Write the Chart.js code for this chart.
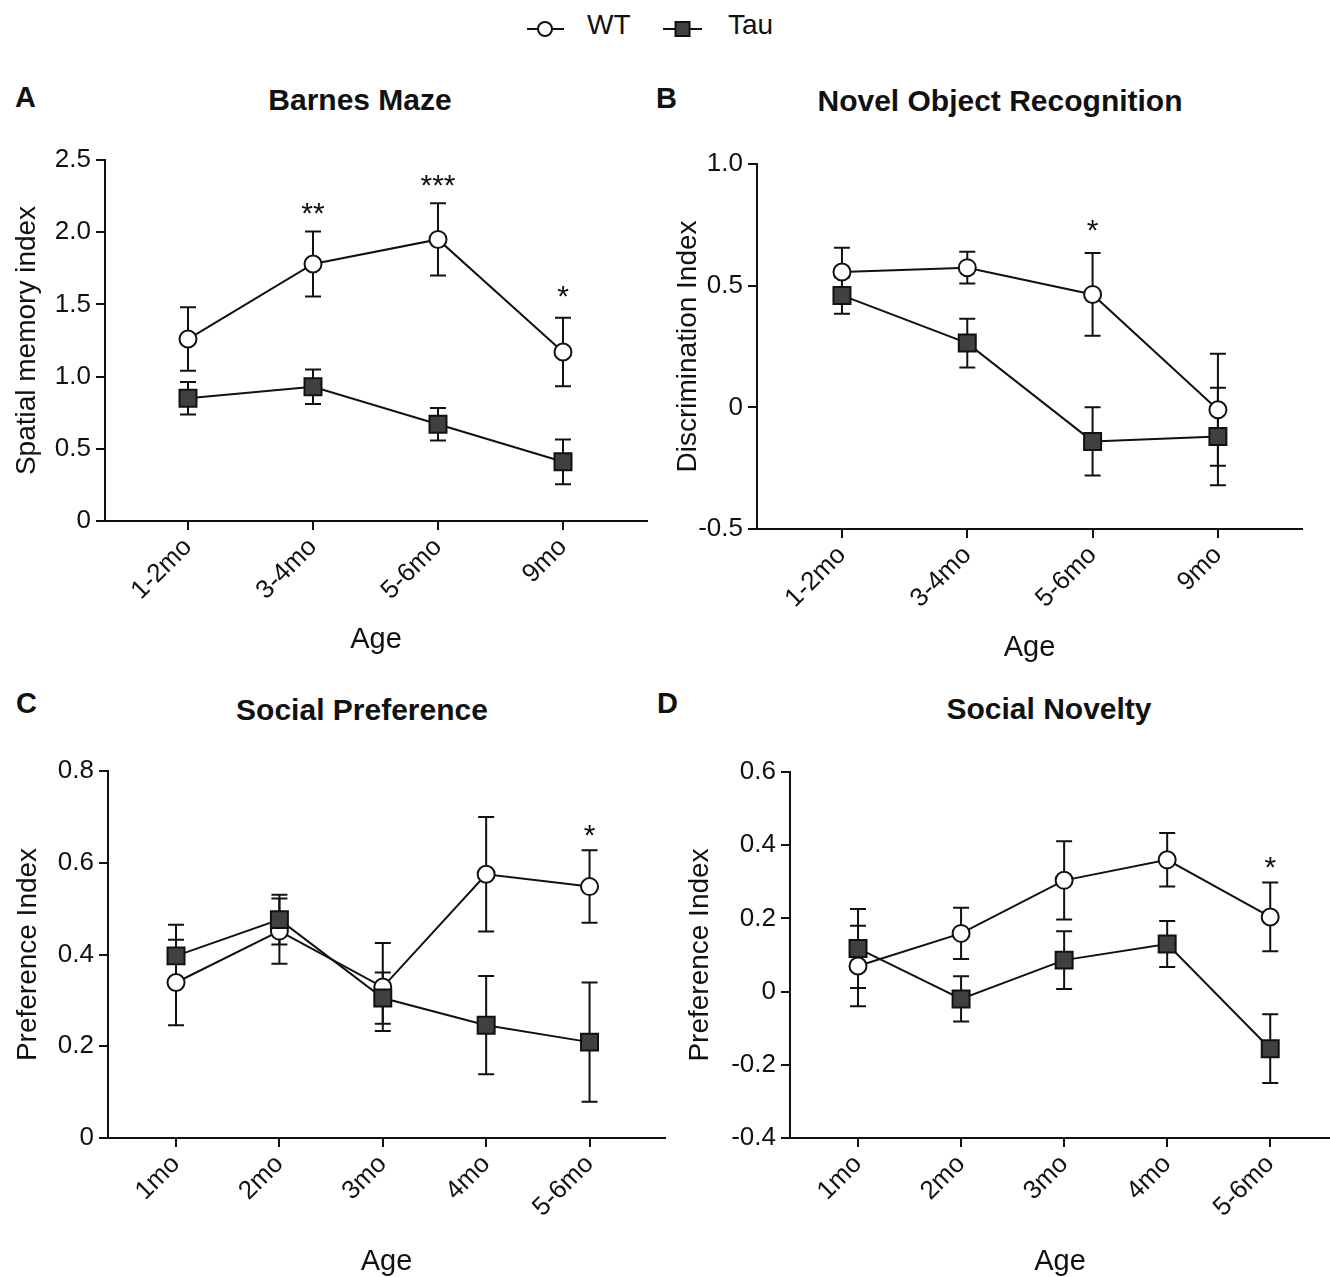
<!DOCTYPE html>
<html>
<head>
<meta charset="utf-8">
<script src="https://cdn.jsdelivr.net/npm/chart.js@4.4.1/dist/chart.umd.min.js"></script>
<style>
  body { margin: 0; background: #fff; font-family: "Liberation Sans", Arial, sans-serif; color: #111; }
  #fig { position: relative; width: 1330px; height: 1277px; overflow: hidden; }
  #fig canvas { position: absolute; }
  .txt { position: absolute; line-height: 1; white-space: nowrap; }
  .letter { font-weight: bold; font-size: 29px; }
  .title { font-weight: bold; font-size: 30px; transform: translateX(-50%); }
  .key { font-size: 28px; }
  #legendMarks { position: absolute; left: 0; top: 0; }
</style>
</head>
<body>
<div id="fig">
  <svg id="legendMarks" width="800" height="60">
    <line x1="527" y1="29" x2="564" y2="29" stroke="#111" stroke-width="2"/>
    <circle cx="545" cy="29" r="7" fill="#fff" stroke="#111" stroke-width="2"/>
    <line x1="663" y1="29" x2="702" y2="29" stroke="#111" stroke-width="2"/>
    <rect x="675.5" y="22" width="14" height="14" fill="#404040" stroke="#111" stroke-width="2"/>
  </svg>
  <div class="txt key" style="left:587px;top:11px">WT</div>
  <div class="txt key" style="left:728px;top:11px">Tau</div>

  <div class="txt letter" style="left:15px;top:83px">A</div>
  <div class="txt letter" style="left:656px;top:84px">B</div>
  <div class="txt letter" style="left:16px;top:689px">C</div>
  <div class="txt letter" style="left:657px;top:689px">D</div>

  <div class="txt title" style="left:360px;top:85px">Barnes Maze</div>
  <div class="txt title" style="left:1000px;top:86px">Novel Object Recognition</div>
  <div class="txt title" style="left:362px;top:695px">Social Preference</div>
  <div class="txt title" style="left:1049px;top:694px">Social Novelty</div>

  <canvas id="chartA" width="665" height="540" style="left:0;top:130px"></canvas>
  <canvas id="chartB" width="665" height="540" style="left:665px;top:130px"></canvas>
  <canvas id="chartC" width="680" height="550" style="left:0;top:730px"></canvas>
  <canvas id="chartD" width="680" height="550" style="left:665px;top:730px"></canvas>
</div>

<script>
// age groups
var agesAB = ['1-2mo', '3-4mo', '5-6mo', '9mo'];
var agesCD = ['1mo', '2mo', '3mo', '4mo', '5-6mo'];

// A - Barnes maze, spatial memory index (mean, sem)
var barnesWT = [1.26, 1.78, 1.95, 1.17];
var barnesWTErr = [0.22, 0.225, 0.25, 0.237];
var barnesTau = [0.85, 0.93, 0.67, 0.41];
var barnesTauErr = [0.113, 0.12, 0.112, 0.155];
var barnesStars = ['', '**', '***', '*'];
var barnesStarAt = [null, 2.17, 2.36, 1.59];

// B - novel object recognition, discrimination index
var norWT = [0.556, 0.574, 0.464, -0.01];
var norWTErr = [0.10, 0.065, 0.17, 0.23];
var norTau = [0.46, 0.264, -0.14, -0.12];
var norTauErr = [0.075, 0.10, 0.14, 0.20];
var norStars = ['', '', '*', ''];
var norStarAt = [null, null, 0.75, null];

// C - social preference, preference index
var prefWT = [0.339, 0.451, 0.329, 0.575, 0.548];
var prefWTErr = [0.093, 0.071, 0.096, 0.125, 0.079];
var prefTau = [0.397, 0.476, 0.305, 0.246, 0.209];
var prefTauErr = [0.068, 0.054, 0.056, 0.107, 0.13];
var prefStars = ['', '', '', '', '*'];
var prefStarAt = [null, null, null, null, 0.672];

// D - social novelty, preference index
var novWT = [0.07, 0.159, 0.304, 0.36, 0.204];
var novWTErr = [0.11, 0.07, 0.107, 0.073, 0.094];
var novTau = [0.118, -0.02, 0.086, 0.13, -0.156];
var novTauErr = [0.108, 0.062, 0.079, 0.063, 0.094];
var novStars = ['', '', '', '', '*'];
var novStarAt = [null, null, null, null, 0.355];

var FONT = '"Liberation Sans", Arial, sans-serif';
var INK = '#111';
Chart.defaults.font.family = FONT;
Chart.defaults.color = INK;

// sem bars, drawn under the lines and markers
var errorBars = {
  id: 'errorBars',
  beforeDatasetsDraw: function (chart) {
    var ctx = chart.ctx, y = chart.scales.y;
    ctx.save();
    ctx.strokeStyle = INK;
    ctx.lineWidth = 2;
    chart.data.datasets.forEach(function (ds, i) {
      chart.getDatasetMeta(i).data.forEach(function (pt, j) {
        var v = ds.data[j].y, e = ds.errs[j];
        var top = y.getPixelForValue(v + e), bot = y.getPixelForValue(v - e);
        ctx.beginPath();
        ctx.moveTo(pt.x, top); ctx.lineTo(pt.x, bot);
        ctx.moveTo(pt.x - 8, top); ctx.lineTo(pt.x + 8, top);
        ctx.moveTo(pt.x - 8, bot); ctx.lineTo(pt.x + 8, bot);
        ctx.stroke();
      });
    });
    ctx.restore();
  }
};

// significance asterisks
var sigStars = {
  id: 'sigStars',
  afterDatasetsDraw: function (chart, args, opts) {
    var ctx = chart.ctx, x = chart.scales.x, y = chart.scales.y;
    ctx.save();
    ctx.font = '30px ' + FONT;
    ctx.fillStyle = INK;
    ctx.textAlign = 'center';
    ctx.textBaseline = 'alphabetic';
    opts.marks.forEach(function (m, i) {
      if (!m) return;
      ctx.fillText(m, x.getPixelForValue(i), y.getPixelForValue(opts.at[i]) + 15);
    });
    ctx.restore();
  }
};

function points(vals) {
  return vals.map(function (v, i) { return { x: i, y: v }; });
}

function yLabel(v) {
  return Math.abs(v) < 1e-9 ? '0' : v.toFixed(1);
}

function drawPanel(id, p) {
  var axisGrid = { drawOnChartArea: false, drawTicks: true, tickLength: 9, color: INK, lineWidth: 2 };
  var axisBorder = { display: true, color: INK, width: 2 };
  new Chart(document.getElementById(id), {
    type: 'line',
    data: {
      datasets: [{
        label: 'WT',
        data: points(p.wt),
        errs: p.wtErr,
        order: 1,
        borderColor: INK,
        borderWidth: 2,
        pointStyle: 'circle',
        pointRadius: 8.5,
        pointBackgroundColor: '#fff',
        pointBorderColor: INK,
        pointBorderWidth: 2
      }, {
        label: 'Tau',
        data: points(p.tau),
        errs: p.tauErr,
        order: 0,
        borderColor: INK,
        borderWidth: 2,
        pointStyle: 'rect',
        pointRadius: 12,
        pointBackgroundColor: '#404040',
        pointBorderColor: INK,
        pointBorderWidth: 2
      }]
    },
    plugins: [errorBars, sigStars],
    options: {
      responsive: false,
      animation: false,
      layout: { padding: { top: p.padTop, right: p.padRight, left: 0, bottom: 0 } },
      plugins: {
        legend: { display: false },
        tooltip: { enabled: false },
        sigStars: { marks: p.stars, at: p.starAt }
      },
      scales: {
        x: {
          type: 'linear',
          min: p.xMin,
          max: p.xMax,
          afterBuildTicks: function (s) {
            s.ticks = p.cats.map(function (c, i) { return { value: i }; });
          },
          afterFit: function (s) { s.height = p.xh; },
          ticks: {
            callback: function (v) { return p.cats[v]; },
            autoSkip: false,
            minRotation: 45,
            maxRotation: 45,
            padding: 2,
            color: INK,
            font: { size: 26 }
          },
          grid: axisGrid,
          border: axisBorder,
          title: { display: true, text: 'Age', color: INK, font: { size: 29 }, padding: { top: 0, bottom: p.ageBottom } }
        },
        y: {
          min: p.yMin,
          max: p.yMax,
          afterFit: function (s) { s.width = p.yw; },
          ticks: {
            stepSize: p.yStep,
            callback: yLabel,
            padding: 5,
            color: INK,
            font: { size: 26 }
          },
          grid: axisGrid,
          border: axisBorder,
          title: { display: true, text: p.yTitle, color: INK, font: { size: 28 }, padding: { top: p.titleLeft, bottom: 0 } }
        }
      }
    }
  });
}

drawPanel('chartA', {
  cats: agesAB, wt: barnesWT, wtErr: barnesWTErr, tau: barnesTau, tauErr: barnesTauErr,
  stars: barnesStars, starAt: barnesStarAt,
  yMin: 0, yMax: 2.5, yStep: 0.5, yTitle: 'Spatial memory index',
  xMin: -0.664, xMax: 3.672,
  yw: 105, xh: 149, padTop: 30, padRight: 18, titleLeft: 10, ageBottom: 13
});

drawPanel('chartB', {
  cats: agesAB, wt: norWT, wtErr: norWTErr, tau: norTau, tauErr: norTauErr,
  stars: norStars, starAt: norStarAt,
  yMin: -0.5, yMax: 1.0, yStep: 0.5, yTitle: 'Discrimination Index',
  xMin: -0.678, xMax: 3.671,
  yw: 92, xh: 141, padTop: 34, padRight: 28, titleLeft: 6, ageBottom: 5
});

// C and D run their x axis to the page edge; the canvas is a bit wider and padded back
drawPanel('chartC', {
  cats: agesCD, wt: prefWT, wtErr: prefWTErr, tau: prefTau, tauErr: prefTauErr,
  stars: prefStars, starAt: prefStarAt,
  yMin: 0, yMax: 0.8, yStep: 0.2, yTitle: 'Preference Index',
  xMin: -0.658, xMax: 4.73,
  yw: 108, xh: 142, padTop: 41, padRight: 15, titleLeft: 11, ageBottom: 1
});

drawPanel('chartD', {
  cats: agesCD, wt: novWT, wtErr: novWTErr, tau: novTau, tauErr: novTauErr,
  stars: novStars, starAt: novStarAt,
  yMin: -0.4, yMax: 0.6, yStep: 0.2, yTitle: 'Preference Index',
  xMin: -0.66, xMax: 4.58,
  yw: 125, xh: 142, padTop: 42, padRight: 15, titleLeft: 18, ageBottom: 1
});
</script>
</body>
</html>
